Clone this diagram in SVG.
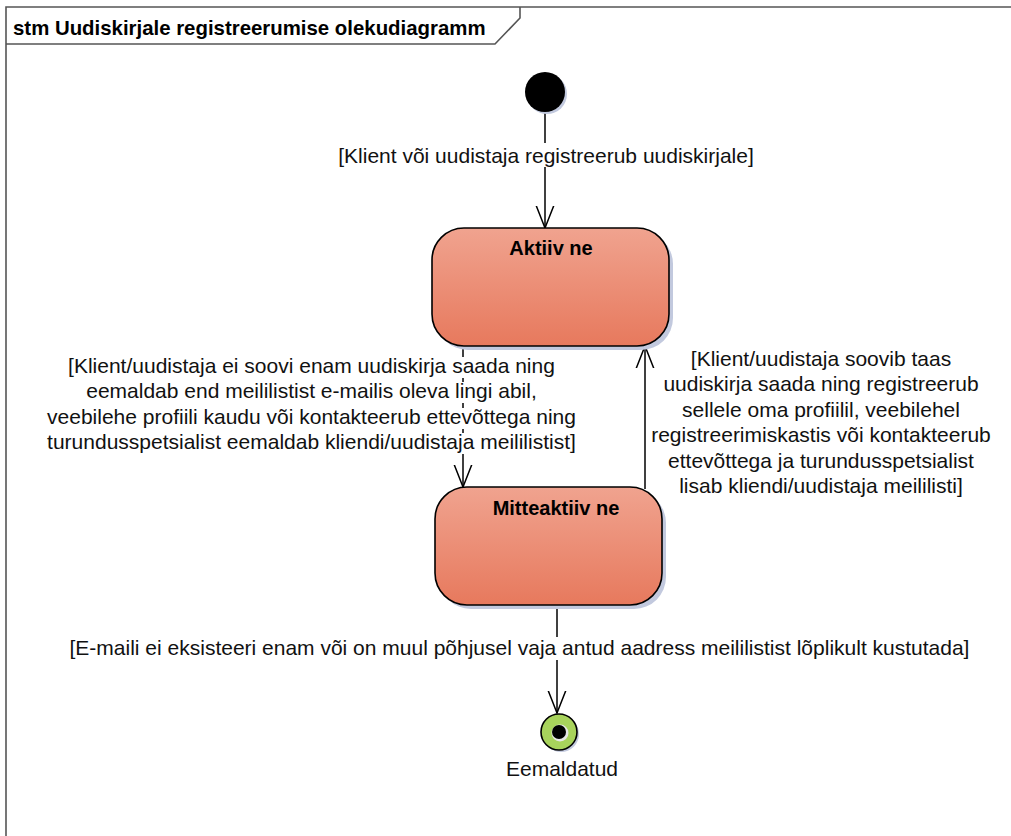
<svg xmlns="http://www.w3.org/2000/svg" width="1011" height="836" viewBox="0 0 1011 836">
  <defs>
    <linearGradient id="stateFill" x1="0" y1="0" x2="0" y2="1">
      <stop offset="0" stop-color="#F0A38F"/>
      <stop offset="1" stop-color="#E7795D"/>
    </linearGradient>
    <marker id="openArrow" viewBox="0 0 24 24" markerWidth="24" markerHeight="24" refX="22" refY="12" orient="auto" markerUnits="userSpaceOnUse">
      <path d="M-6,1 L22,12 L-6,23" fill="none" stroke="#000" stroke-width="1.5"/>
    </marker>
    <style>
      .frame { fill: none; stroke: #555; stroke-width: 1.6; }
      .title { font-family: "Liberation Sans", Arial, sans-serif; font-size: 20.4px; font-weight: bold; fill: #000; }
      .state { fill: url(#stateFill); stroke: #000; stroke-width: 1.6; }
      .shadow { fill: #C2C9DE; }
      .stateName { font-family: "Liberation Sans", Arial, sans-serif; font-size: 20px; font-weight: bold; fill: #000; text-anchor: middle; }
      .label { font-family: "Liberation Sans", Arial, sans-serif; font-size: 21px; fill: #111; text-anchor: middle; }
      .edge { fill: none; stroke: #000; stroke-width: 1.5; }
      .bg { fill: #fff; }
    </style>
  </defs>

  <rect width="1011" height="836" fill="#fff"/>

  <!-- diagram frame and name tab -->
  <g id="frame">
    <path class="frame" d="M6,845 L6,7 L1020,7"/>
    <path class="frame" d="M6,44 L495,44 L520,18 L520,7"/>
    <text class="title" x="13" y="35">stm Uudiskirjale registreerumise olekudiagramm</text>
  </g>

  <!-- transitions -->
  <g id="connectors">
    <line class="edge" x1="545" y1="112" x2="545" y2="228" marker-end="url(#openArrow)"/>
    <line class="edge" x1="463" y1="346" x2="463" y2="487" marker-end="url(#openArrow)"/>
    <line class="edge" x1="645" y1="489" x2="645" y2="346" marker-end="url(#openArrow)"/>
    <line class="edge" x1="557" y1="605" x2="557" y2="713" marker-end="url(#openArrow)"/>
  </g>

  <!-- transition guards -->
  <g id="labels">
    <rect class="bg" x="331" y="143" width="430" height="24"/>
    <text class="label" x="546" y="163">[Klient või uudistaja registreerub uudiskirjale]</text>

    <rect class="bg" x="65" y="357" width="493" height="21"/>
    <rect class="bg" x="95" y="382" width="433" height="21"/>
    <rect class="bg" x="44" y="408" width="535" height="21"/>
    <rect class="bg" x="44" y="433" width="535" height="21"/>
    <text class="label" x="311.5" y="373">[Klient/uudistaja ei soovi enam uudiskirja saada ning</text>
    <text class="label" x="311.5" y="398.3">eemaldab end meililistist e-mailis oleva lingi abil,</text>
    <text class="label" x="311.5" y="423.6">veebilehe profiili kaudu või kontakteerub ettevõttega ning</text>
    <text class="label" x="311.5" y="449">turundusspetsialist eemaldab kliendi/uudistaja meililistist]</text>

    <text class="label" x="821" y="366">[Klient/uudistaja soovib taas</text>
    <text class="label" x="821" y="391.4">uudiskirja saada ning registreerub</text>
    <text class="label" x="821" y="416.8">sellele oma profiilil, veebilehel</text>
    <text class="label" x="821" y="442.2">registreerimiskastis või kontakteerub</text>
    <text class="label" x="821" y="467.6">ettevõttega ja turundusspetsialist</text>
    <text class="label" x="821" y="493">lisab kliendi/uudistaja meililisti]</text>

    <rect class="bg" x="66" y="637" width="907" height="23"/>
    <text class="label" x="519.5" y="655">[E-maili ei eksisteeri enam või on muul põhjusel vaja antud aadress meililistist lõplikult kustutada]</text>
  </g>

  <!-- initial pseudostate -->
  <g id="initial">
    <circle cx="547" cy="94" r="20" fill="#C2C9DE"/>
    <circle cx="545" cy="92" r="20" fill="#000"/>
  </g>

  <!-- state: Aktiivne -->
  <g id="state-aktiivne">
    <rect class="shadow" x="436" y="232" width="237" height="118" rx="32" ry="32"/>
    <rect class="state" x="432" y="228" width="237" height="118" rx="32" ry="32"/>
    <text class="stateName" x="551" y="255">Aktiiv ne</text>
  </g>

  <!-- state: Mitteaktiivne -->
  <g id="state-mitteaktiivne">
    <rect class="shadow" x="439" y="491" width="227" height="118" rx="32" ry="32"/>
    <rect class="state" x="435" y="487" width="227" height="118" rx="32" ry="32"/>
    <text class="stateName" x="556" y="515">Mitteaktiiv ne</text>
  </g>

  <!-- final state -->
  <g id="final-eemaldatud">
    <circle cx="561" cy="734" r="18" fill="#C2C9DE"/>
    <circle cx="559" cy="732" r="18" fill="#A8D35C" stroke="#000" stroke-width="1.6"/>
    <circle cx="560" cy="733" r="8.5" fill="#E8E8E8"/>
    <circle cx="559" cy="732" r="7" fill="#000"/>
    <text class="label" x="562" y="776">Eemaldatud</text>
  </g>
</svg>
